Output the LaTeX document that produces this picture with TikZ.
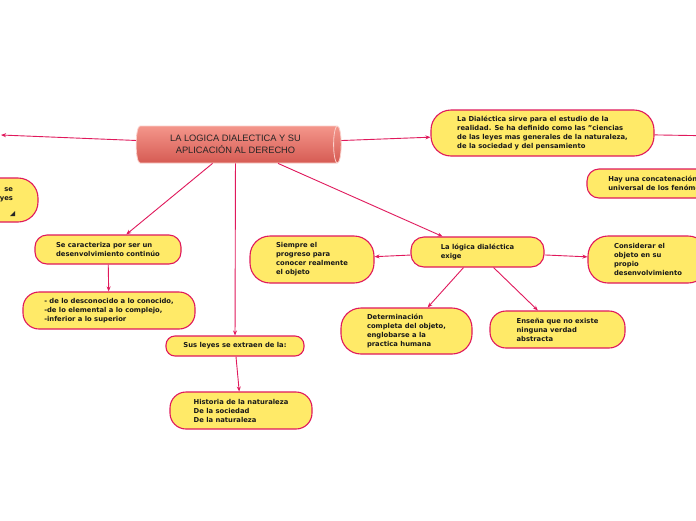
\documentclass[tikz,border=0pt]{standalone}
\usepackage{fontspec}
\setmainfont{DejaVu Sans}
\newfontfamily\titlefont{Liberation Sans}
\usetikzlibrary{shapes.geometric,arrows.meta}
\definecolor{ideafill}{HTML}{FFEA68}
\definecolor{linkcol}{HTML}{E0195C}
\definecolor{maintop}{HTML}{F4968B}
\definecolor{mainbot}{HTML}{D65B53}

\begin{document}
\begin{tikzpicture}[x=1pt,y=-1pt,
    idea/.style={draw=linkcol,fill=ideafill,line width=1.1pt,rounded corners=#1,
      align=left,text=black!90,font=\bfseries\fontsize{6.8}{9}\selectfont},
    idea/.default=12pt,
    wire/.style={draw=linkcol,line width=0.9pt},
    link/.style={wire,-{Stealth[length=5pt,width=4pt]}}]
    \clip (0,0) rectangle (696,520);
    \fill[white] (0,0) rectangle (696,520);
    % central topic
    \node[cylinder,shape border rotate=0,aspect=0.3,minimum width=37pt,minimum height=205pt,
      top color=maintop,bottom color=mainbot,draw=white!55!maintop,line width=0.8pt,
      align=center,text=black!85,font=\titlefont\fontsize{9.3}{12}\selectfont]
      (main) at (235.5,144.5) {LA LOGICA DIALECTICA Y SU\\APLICACIÓN AL DERECHO};
    \node[idea=20pt,minimum width=98pt,minimum height=44pt,text width=48pt,align=right,text depth=20pt]
      (izq) at (-11,200) {se\\yes};
    \fill[black!85] (10,216) -- (15,216) -- (15,211) -- cycle;
    \node[idea=20pt,minimum width=223pt,minimum height=46pt] (dialec) at (542.5,133)
      {La Dialéctica sirve para el estudio de la\\realidad. Se ha definido como las "ciencias\\de las leyes mas generales de la naturaleza,\\de la sociedad y del pensamiento};
    \node[idea,minimum width=148pt,minimum height=29pt] (hay) at (661,183.5)
      {Hay una concatenación\\universal de los fenómenos};
    \node[idea,minimum width=146pt,minimum height=29pt] (carac) at (108,249.5)
      {Se caracteriza por ser un\\desenvolvimiento continúo};
    \node[idea=16pt,minimum width=172pt,minimum height=37pt] (desco) at (109,310.5)
      {- de lo desconocido a lo conocido,\\-de lo elemental a lo complejo,\\-inferior a lo superior};
    \node[idea=9pt,minimum width=138pt,minimum height=20pt] (leyes) at (235,346)
      {Sus leyes se extraen de la:};
    \node[idea=16pt,minimum width=142pt,minimum height=37pt] (hist) at (241,410.5)
      {Historia de la naturaleza\\De la sociedad\\De la naturaleza};
    \node[idea=13pt,minimum width=133pt,minimum height=30pt] (logica) at (477.5,252)
      {La lógica dialéctica\\exige};
    \node[idea=20pt,minimum width=124pt,minimum height=47pt] (siempre) at (312,259.5)
      {Siempre el\\progreso para\\conocer realmente\\el objeto};
    \node[idea=20pt,minimum width=120pt,minimum height=47pt] (consid) at (648,259.5)
      {Considerar el\\objeto en su\\propio\\desenvolvimiento};
    \node[idea=20pt,minimum width=131pt,minimum height=46pt] (determ) at (406.5,331)
      {Determinación\\completa del objeto,\\englobarse a la\\practica humana};
    \node[idea=16pt,minimum width=135pt,minimum height=37pt] (ensena) at (557.5,329.5)
      {Enseña que no existe\\ninguna verdad\\abstracta};
    \coordinate (izqend) at (1,135);
    \coordinate (derend) at (720,136);
    % connectors
    \draw[link] (main) -- (izqend);
    \draw[link] (main) -- (dialec);
    \draw[wire] (dialec) -- (derend);
    \draw[link] (main) -- (carac);
    \draw[link] (main) -- (leyes);
    \draw[link] (main) -- (logica);
    \draw[link] (carac) -- (desco);
    \draw[link] (leyes) -- (hist);
    \draw[link] (logica) -- (siempre);
    \draw[link] (logica) -- (consid);
    \draw[link] (logica) -- (determ);
    \draw[link] (logica) -- (ensena);
\end{tikzpicture}
\end{document}
